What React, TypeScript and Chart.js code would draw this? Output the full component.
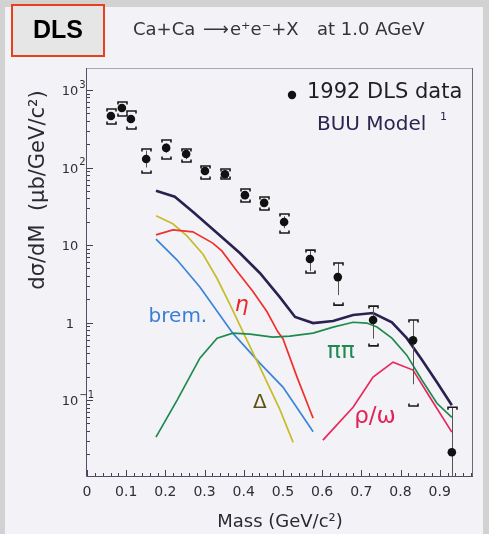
import { useEffect, useRef } from "react";
import { Chart, registerables } from "chart.js";

Chart.register(...registerables);

// Measured dilepton spectrum (DLS 1992), mass in GeV/c^2, dσ/dM in μb/(GeV/c^2)
const dataMass = [0.061, 0.089, 0.112, 0.151, 0.202, 0.253, 0.301, 0.352, 0.403, 0.452, 0.503, 0.569, 0.64, 0.73, 0.832, 0.931];
const dataValue = [462, 586, 423, 129, 179, 149, 90, 82, 44, 35, 19.8, 6.6, 3.86, 1.08, 0.59, 0.0213];
const statLow = [415, 530, 380, 100, 155, 128, 80, 74, 39, 31, 16.5, 4.6, 2.26, 0.62, 0.16, 0.005];
const statHigh = [515, 650, 470, 165, 205, 170, 100, 92, 50, 39, 23.5, 8.6, 5.87, 1.63, 1.08, 0.081];
const sysLow = [364, 462, 314, 85, 129, 118, 71, 71, 35.9, 28.3, 14.3, 4.36, 1.68, 0.5, 0.084, 0.005];
const sysHigh = [569, 700, 535, 173, 226, 173, 104.5, 95.7, 52.8, 41.6, 25.1, 8.6, 5.87, 1.63, 1.08, 0.081];

// BUU model contributions
const totalMass = [0.176, 0.224, 0.27, 0.332, 0.39, 0.441, 0.492, 0.531, 0.577, 0.628, 0.679, 0.73, 0.778, 0.816, 0.855, 0.893, 0.931];
const totalValue = [50.2, 42, 26.9, 14.3, 7.9, 4.36, 2.13, 1.18, 0.985, 1.05, 1.25, 1.33, 1.01, 0.63, 0.33, 0.17, 0.086];

const deltaMass = [0.176, 0.219, 0.255, 0.296, 0.332, 0.365, 0.398, 0.449, 0.492, 0.526];
const deltaValue = [23.8, 18.8, 13.1, 7.6, 3.7, 1.71, 0.76, 0.22, 0.076, 0.0285];

const etaMass = [0.176, 0.219, 0.27, 0.321, 0.344, 0.383, 0.423, 0.459, 0.487, 0.5, 0.536, 0.569, 0.577];
const etaValue = [13.5, 15.7, 14.8, 10.6, 8.4, 4.6, 2.53, 1.39, 0.76, 0.62, 0.198, 0.074, 0.0586];

const bremMass = [0.176, 0.23, 0.288, 0.372, 0.441, 0.5, 0.569, 0.577];
const bremValue = [11.9, 6.4, 2.87, 0.73, 0.3, 0.147, 0.045, 0.039];

const pipiMass = [0.176, 0.23, 0.288, 0.332, 0.372, 0.416, 0.474, 0.518, 0.577, 0.628, 0.679, 0.714, 0.74, 0.778, 0.816, 0.855, 0.893, 0.931];
const pipiValue = [0.0333, 0.1, 0.348, 0.63, 0.73, 0.71, 0.65, 0.67, 0.73, 0.875, 1.01, 0.985, 0.875, 0.63, 0.38, 0.18, 0.091, 0.06];

const rhoMass = [0.602, 0.679, 0.73, 0.781, 0.832, 0.875, 0.931];
const rhoValue = [0.0305, 0.081, 0.198, 0.309, 0.244, 0.109, 0.0386];

// Axis ticks
const xTickValues = [0, 0.1, 0.2, 0.3, 0.4, 0.5, 0.6, 0.7, 0.8, 0.9];
const xTickLabels = ["0", "0.1", "0.2", "0.3", "0.4", "0.5", "0.6", "0.7", "0.8", "0.9"];
const yTickDecades = [-1, 0, 1, 2, 3];
const yTickBase = ["10", "1", "10", "10", "10"];
const yTickExp = ["\u22121", "", "", "2", "3"];

// Curve labels placed at (mass, value)
const curveLabels = [
  { text: "brem.", x: 0.232, y: 1.18, color: "#3a7fd5", font: "20px 'DejaVu Sans'" },
  { text: "\u03b7", x: 0.395, y: 1.68, color: "#e8282a", font: "oblique 22px 'DejaVu Sans'" },
  { text: "\u0394", x: 0.441, y: 0.0914, color: "#5e5212", font: "20px 'DejaVu Sans'" },
  { text: "\u03c0\u03c0", x: 0.648, y: 0.416, color: "#1f8a50", font: "23px 'DejaVu Sans'" },
  { text: "\u03c1/\u03c9", x: 0.735, y: 0.0604, color: "#e02255", font: "23px 'DejaVu Sans'" },
];

const pts = (xs: number[], ys: number[]) => xs.map((x, i) => ({ x, y: ys[i] }));

const FONT = "'DejaVu Sans', sans-serif";

const decor = {
  id: "decor",
  beforeDraw(chart: any) {
    const { ctx, width, height } = chart;
    ctx.save();
    ctx.fillStyle = "#d2d2d2";
    ctx.fillRect(0, 0, width, height);
    ctx.fillStyle = "#f3f3f7";
    ctx.fillRect(5, 7, 478, height - 7);
    ctx.restore();
  },
  beforeDatasetsDraw(chart: any) {
    const { ctx, chartArea: a, scales } = chart;
    const x = scales.x;
    const y = scales.y;
    ctx.save();
    // frame
    ctx.lineWidth = 1;
    ctx.strokeStyle = "#a8a8b4";
    ctx.beginPath();
    ctx.moveTo(a.left, a.top + 0.5);
    ctx.lineTo(a.right, a.top + 0.5);
    ctx.stroke();
    ctx.strokeStyle = "#6a6a72";
    ctx.beginPath();
    ctx.moveTo(a.right - 0.5, a.top);
    ctx.lineTo(a.right - 0.5, a.bottom);
    ctx.stroke();
    ctx.strokeStyle = "#5a4a6e";
    ctx.beginPath();
    ctx.moveTo(a.left - 0.5, a.top);
    ctx.lineTo(a.left - 0.5, a.bottom + 0.5);
    ctx.lineTo(a.right, a.bottom + 0.5);
    ctx.stroke();

    // x ticks (inward)
    ctx.strokeStyle = "#444";
    for (let i = 0; i <= 49; i++) {
      const v = i * 0.02;
      if (v > x.max) break;
      const px = Math.round(x.getPixelForValue(v)) + 0.5;
      const len = i % 5 === 0 ? 6 : 3;
      ctx.beginPath();
      ctx.moveTo(px, a.bottom);
      ctx.lineTo(px, a.bottom - len);
      ctx.stroke();
    }
    // y ticks (inward)
    for (let d = -2; d <= 3; d++) {
      for (let k = 1; k <= 9; k++) {
        const v = k * Math.pow(10, d);
        if (v < y.min || v > y.max) continue;
        const py = Math.round(y.getPixelForValue(v)) + 0.5;
        const len = k === 1 ? 6 : 3;
        ctx.beginPath();
        ctx.moveTo(a.left, py);
        ctx.lineTo(a.left + len, py);
        ctx.stroke();
      }
    }
    ctx.restore();
  },
  beforeDatasetDraw(chart: any, args: any) {
    if (args.index !== 0) return;
    const { ctx, chartArea: a, scales } = chart;
    const x = scales.x;
    const y = scales.y;
    ctx.save();
    ctx.beginPath();
    ctx.rect(a.left, a.top, a.right - a.left, a.bottom - a.top);
    ctx.clip();
    dataMass.forEach((m, i) => {
      const px = Math.round(x.getPixelForValue(m)) + 0.5;
      // statistical error
      ctx.strokeStyle = "#555";
      ctx.lineWidth = 1;
      ctx.beginPath();
      ctx.moveTo(px, y.getPixelForValue(statHigh[i]));
      ctx.lineTo(px, y.getPixelForValue(statLow[i]));
      ctx.stroke();
      // systematic brackets
      ctx.strokeStyle = "#1a1a1a";
      ctx.lineWidth = 1.6;
      const hw = 4.5;
      const hi = y.getPixelForValue(sysHigh[i]);
      const lo = y.getPixelForValue(sysLow[i]);
      ctx.beginPath();
      ctx.moveTo(px - hw, hi + 2.5);
      ctx.lineTo(px - hw, hi);
      ctx.lineTo(px + hw, hi);
      ctx.lineTo(px + hw, hi + 2.5);
      ctx.stroke();
      ctx.beginPath();
      ctx.moveTo(px - hw, lo - 2.5);
      ctx.lineTo(px - hw, lo);
      ctx.lineTo(px + hw, lo);
      ctx.lineTo(px + hw, lo - 2.5);
      ctx.stroke();
    });
    ctx.restore();
  },
  afterDraw(chart: any) {
    const { ctx, chartArea: a, scales } = chart;
    const x = scales.x;
    const y = scales.y;
    ctx.save();

    // x tick labels
    ctx.fillStyle = "#2e2e36";
    ctx.font = `14px ${FONT}`;
    ctx.textAlign = "center";
    ctx.textBaseline = "middle";
    xTickValues.forEach((v, i) => {
      ctx.fillText(xTickLabels[i], x.getPixelForValue(v), a.bottom + 16);
    });

    // y tick labels
    yTickDecades.forEach((d, i) => {
      const py = y.getPixelForValue(Math.pow(10, d));
      ctx.font = `13px ${FONT}`;
      ctx.textAlign = "center";
      ctx.textBaseline = "middle";
      ctx.fillText(yTickBase[i], 70, py + 2);
      if (yTickExp[i]) {
        const w = ctx.measureText(yTickBase[i]).width;
        ctx.font = `10px ${FONT}`;
        ctx.textAlign = "left";
        ctx.fillText(yTickExp[i], 70 + w / 2 + 1, py - 5);
      }
    });

    // axis titles
    ctx.fillStyle = "#2a2a32";
    ctx.font = `18px ${FONT}`;
    ctx.textAlign = "center";
    ctx.textBaseline = "middle";
    ctx.fillText("Mass (GeV/c\u00b2)", 280, 522);

    ctx.save();
    ctx.translate(39, 190);
    ctx.rotate(-Math.PI / 2);
    ctx.font = `21px ${FONT}`;
    ctx.fillText("d\u03c3/dM  (\u03bcb/GeV/c\u00b2)", 0, 0);
    ctx.restore();

    // curve labels
    curveLabels.forEach((l) => {
      ctx.font = l.font;
      ctx.fillStyle = l.color;
      ctx.textAlign = "center";
      ctx.textBaseline = "middle";
      ctx.fillText(l.text, x.getPixelForValue(l.x), y.getPixelForValue(l.y));
    });

    // legend
    ctx.fillStyle = "#111";
    ctx.beginPath();
    ctx.arc(292, 95, 4.2, 0, Math.PI * 2);
    ctx.fill();
    ctx.font = `21px ${FONT}`;
    ctx.textAlign = "left";
    ctx.textBaseline = "middle";
    ctx.fillStyle = "#1e1e24";
    ctx.fillText("1992 DLS data", 307, 93);
    ctx.fillStyle = "#2a2550";
    ctx.font = `20px ${FONT}`;
    ctx.fillText("BUU Model", 317, 125);
    ctx.font = `11px ${FONT}`;
    ctx.fillText("1", 440, 117);

    // reaction title
    ctx.fillStyle = "#333338";
    ctx.font = `18px ${FONT}`;
    ctx.textBaseline = "middle";
    ctx.textAlign = "left";
    ctx.fillText("Ca+Ca", 133, 30);
    ctx.fillText("\u27f6", 203, 30);
    ctx.fillText("e\u207ae\u207b+X", 230, 30);
    ctx.fillText("at 1.0 AGeV", 317, 30);

    // DLS tag
    ctx.fillStyle = "#e6e6e6";
    ctx.fillRect(12, 5, 92, 51);
    ctx.strokeStyle = "#e8401c";
    ctx.lineWidth = 2;
    ctx.strokeRect(12, 5, 92, 51);
    ctx.fillStyle = "#000";
    ctx.font = "bold 25px 'Liberation Sans', Arial, sans-serif";
    ctx.textAlign = "center";
    ctx.textBaseline = "middle";
    ctx.fillText("DLS", 58, 31);

    ctx.restore();
  },
};

export default function App() {
  const ref = useRef<HTMLCanvasElement | null>(null);

  useEffect(() => {
    if (!ref.current) return;
    const line = (label: string, xs: number[], ys: number[], color: string, w: number) => ({
      label,
      data: pts(xs, ys),
      showLine: true,
      borderColor: color,
      borderWidth: w,
      pointRadius: 0,
      tension: 0,
      fill: false,
    });
    const chart = new Chart(ref.current, {
      type: "scatter",
      data: {
        datasets: [
          {
            label: "1992 DLS data",
            data: pts(dataMass, dataValue),
            showLine: false,
            pointRadius: 4.3,
            pointBackgroundColor: "#111",
            pointBorderWidth: 0,
          } as any,
          line("BUU total", totalMass, totalValue, "#2a2150", 2.6),
          line("\u03c0\u03c0", pipiMass, pipiValue, "#1f8a50", 1.7),
          line("\u03c1/\u03c9", rhoMass, rhoValue, "#e8285c", 1.7),
          line("\u03b7", etaMass, etaValue, "#f0302a", 1.7),
          line("\u0394", deltaMass, deltaValue, "#c8bc2a", 1.7),
          line("brem.", bremMass, bremValue, "#3b84dc", 1.7),
        ],
      },
      options: {
        responsive: false,
        devicePixelRatio: 1,
        animation: false,
        layout: { padding: { left: 87, right: 16, top: 68, bottom: 58 } },
        plugins: { legend: { display: false }, tooltip: { enabled: false } },
        scales: {
          x: { type: "linear", min: 0, max: 0.985, display: false, bounds: "data" },
          y: { type: "logarithmic", min: 0.0105, max: 1920, display: false, bounds: "data" },
        },
      },
      plugins: [decor],
    });
    return () => chart.destroy();
  }, []);

  return (
    <div style={{ position: "fixed", left: 0, top: 0, width: 489, height: 534 }}>
      <canvas ref={ref} width={489} height={534} style={{ display: "block" }} />
    </div>
  );
}
